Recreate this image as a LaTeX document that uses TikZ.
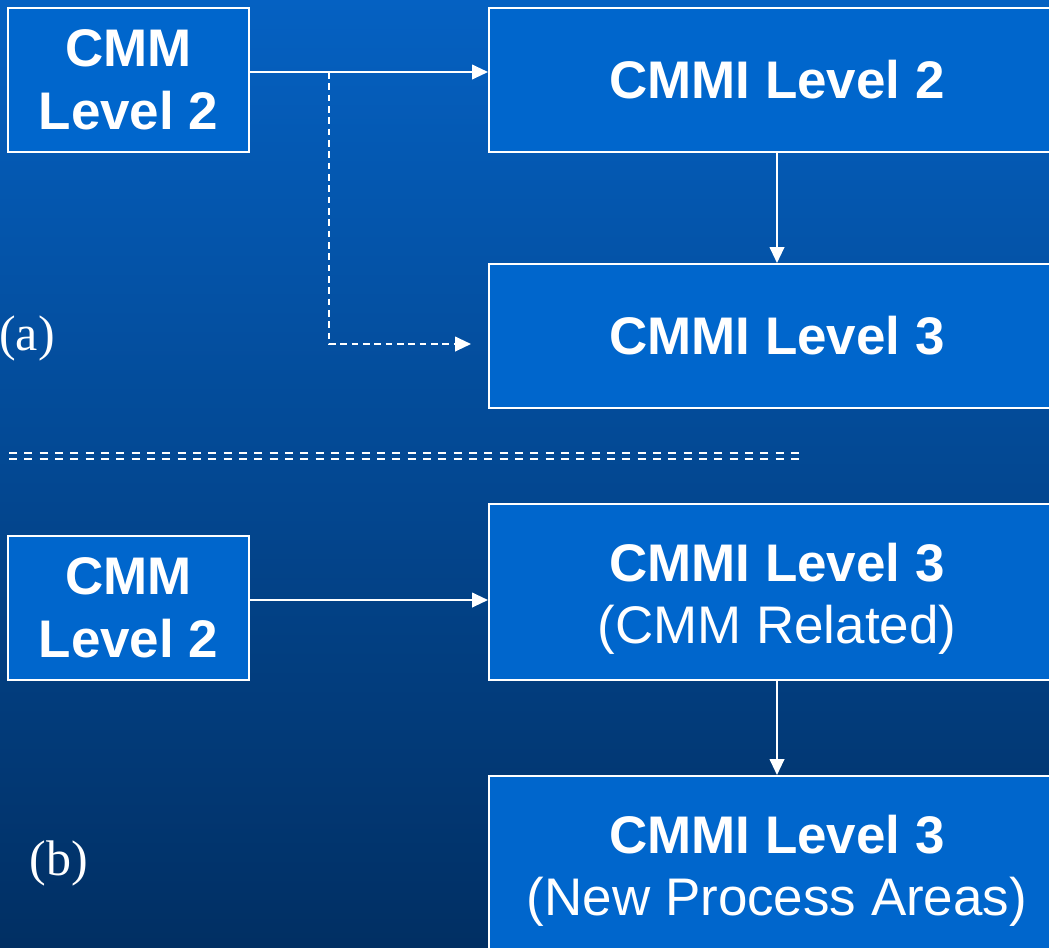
\documentclass[tikz,border=0pt]{standalone}
\usepackage{fontspec}
\setmainfont{Liberation Sans}
\newfontfamily\tagfont{Liberation Serif}
\usetikzlibrary{arrows.meta,positioning}
\definecolor{boxblue}{HTML}{0066CC}
\definecolor{topblue}{HTML}{0561C2}
\definecolor{deepblue}{HTML}{012F63}
\newcommand\dropstrut{\rule{0pt}{39pt}}

\tikzset{
  levelbox/.style={draw=white, line width=1.5pt, fill=boxblue, text=white,
    align=center, inner sep=0pt,
    font=\fontsize{39.7}{47}\selectfont\bfseries},
  cmmbox/.style={levelbox, minimum width=180.75pt, minimum height=108pt},
  cmmibox/.style={levelbox, minimum width=432pt, minimum height=108pt},
  tallbox/.style={levelbox, minimum width=432pt, minimum height=132pt},
  conn/.style={draw=white, line width=1.5pt, -{Triangle[length=12pt,width=11pt]}},
  tag/.style={text=white, inner sep=0pt, font=\fontsize{37.5}{40}\selectfont\tagfont},
}

\begin{document}
\begin{tikzpicture}[x=0.75pt,y=-0.75pt]
      \clip (0,0) rectangle (1049,947);
      \shade[top color=topblue, bottom color=deepblue] (0,0) rectangle (1049,947);

      % (a)
      \path
      (128.5,80) node[cmmbox](cmmA) {CMM\\Level 2}
      (777,80) node[cmmibox](cmmiTwo) {CMMI Level 2}
      (777,336) node[cmmibox](cmmiThree) {CMMI Level 3}
      (27,338) node[tag](tagA) {(a)}
      (329,72) coordinate(split)
      ;

      \draw[conn] ([yshift=6pt]cmmA.east) to ([yshift=6pt]cmmiTwo.west);
      \draw[conn] (cmmiTwo) to (cmmiThree);
      \draw[conn, dash pattern=on 5pt off 3.5pt]
        (split) |- ([xshift=-12.75pt,yshift=-6pt]cmmiThree.west);

      % separator
      \path
      (9,453) coordinate(sepL)
      (802,453) coordinate(sepR)
      ;
      \draw[white, line width=2pt, dash pattern=on 6pt off 5.5pt]
        (sepL) -- (sepR)
        ([yshift=-4.5pt]sepL) -- ([yshift=-4.5pt]sepR);

      % (b)
      \path
      (128.5,608) node[cmmbox](cmmB) {CMM\\Level 2}
      (777,592) node[tallbox](cmmiRel) {\dropstrut CMMI Level 3\\\mdseries(CMM Related)}
      (777,864) node[tallbox](cmmiNew) {\dropstrut CMMI Level 3\\\mdseries(New Process Areas)}
      (59,863) node[tag](tagB) {(b)}
      ;

      \draw[conn] ([yshift=6pt]cmmB.east) to ([yshift=-6pt]cmmiRel.west);
      \draw[conn] (cmmiRel) to (cmmiNew);
\end{tikzpicture}
\end{document}
